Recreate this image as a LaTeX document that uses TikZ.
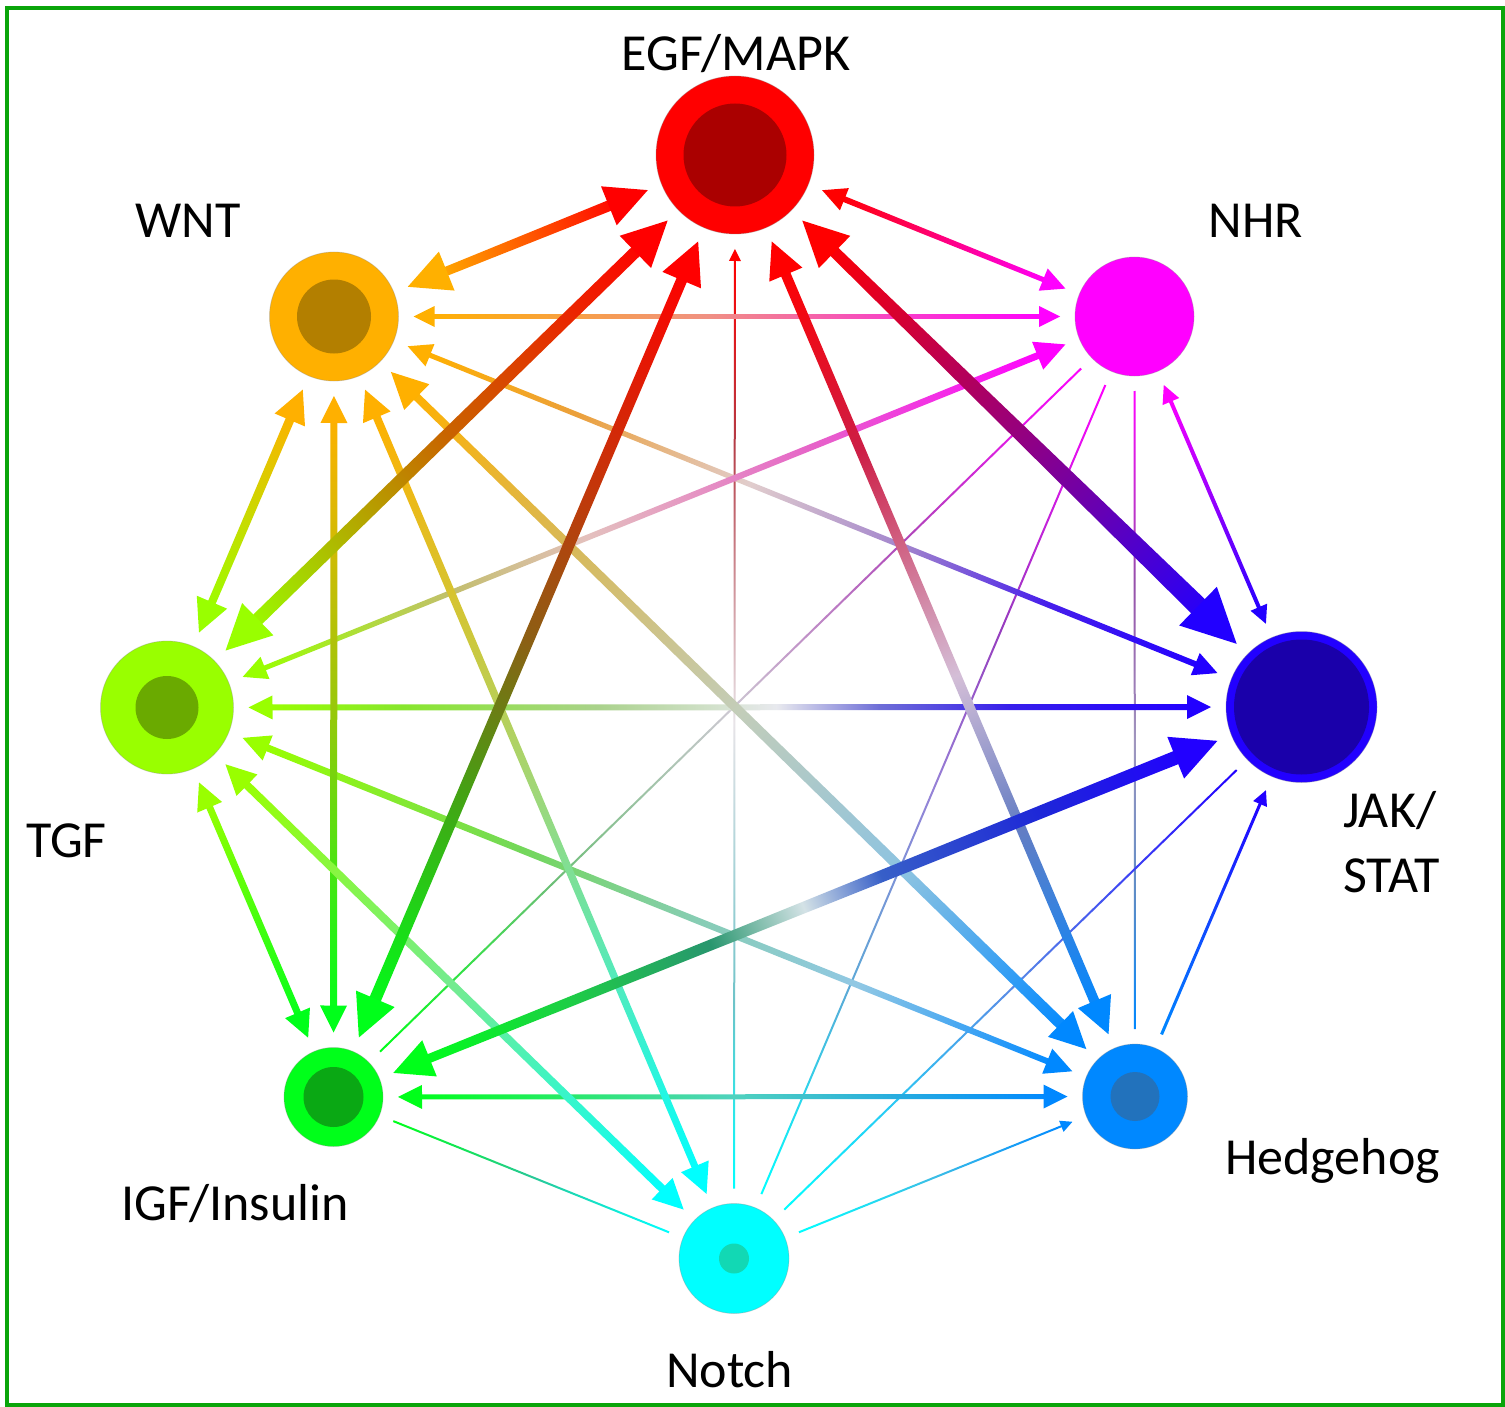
\documentclass[tikz,border=0pt]{standalone}
\usepackage{fontspec}
\setmainfont{Carlito}
\usetikzlibrary{calc}
% node colours
\definecolor{cE}{RGB}{255,0,0}
\definecolor{cEi}{RGB}{170,0,0}
\definecolor{cN}{RGB}{255,0,255}
\definecolor{cJ}{RGB}{34,0,255}
\definecolor{cJi}{RGB}{26,0,170}
\definecolor{cH}{RGB}{0,136,255}
\definecolor{cHi}{RGB}{34,114,188}
\definecolor{cNo}{RGB}{0,255,255}
\definecolor{cNoi}{RGB}{18,216,180}
\definecolor{cI}{RGB}{0,255,26}
\definecolor{cIi}{RGB}{10,168,20}
\definecolor{cT}{RGB}{153,255,0}
\definecolor{cTi}{RGB}{106,170,0}
\definecolor{cW}{RGB}{255,176,0}
\definecolor{cWi}{RGB}{179,127,0}
\definecolor{frame}{RGB}{10,165,10}
% intermediate edge colours
\definecolor{mEJ}{RGB}{150,0,125}
\definecolor{mET}{RGB}{200,100,0}
\definecolor{mEIa}{RGB}{195,55,10}
\definecolor{mEIb}{RGB}{140,95,20}
\definecolor{mEIc}{RGB}{70,160,20}
\definecolor{mEHa}{RGB}{205,30,70}
\definecolor{mEHb}{RGB}{212,190,215}
\definecolor{mEHc}{RGB}{100,125,195}
\definecolor{mENoa}{RGB}{180,60,70}
\definecolor{mENob}{RGB}{232,228,232}
\definecolor{mENoc}{RGB}{110,195,200}
\definecolor{mWN}{RGB}{240,145,130}
\definecolor{mWJa}{RGB}{235,160,60}
\definecolor{mWJb}{RGB}{225,205,205}
\definecolor{mWJc}{RGB}{160,130,205}
\definecolor{mWJd}{RGB}{70,30,235}
\definecolor{mWHa}{RGB}{215,185,90}
\definecolor{mWHb}{RGB}{195,205,185}
\definecolor{mWHc}{RGB}{140,195,225}
\definecolor{mWI}{RGB}{150,200,10}
\definecolor{mWNoa}{RGB}{205,200,60}
\definecolor{mWNob}{RGB}{160,215,120}
\definecolor{mWNoc}{RGB}{80,235,190}
\definecolor{mNTa}{RGB}{230,100,200}
\definecolor{mNTb}{RGB}{228,192,190}
\definecolor{mNTc}{RGB}{195,190,110}
\definecolor{mNIa}{RGB}{175,70,185}
\definecolor{mNIb}{RGB}{205,200,210}
\definecolor{mNIc}{RGB}{110,190,120}
\definecolor{mNNoa}{RGB}{150,60,190}
\definecolor{mNNob}{RGB}{150,130,215}
\definecolor{mNNoc}{RGB}{90,170,215}
\definecolor{mNHa}{RGB}{150,80,170}
\definecolor{mNHb}{RGB}{160,150,190}
\definecolor{mNHc}{RGB}{90,140,200}
\definecolor{mTJa}{RGB}{135,230,45}
\definecolor{mTJb}{RGB}{170,210,140}
\definecolor{mTJc}{RGB}{232,233,238}
\definecolor{mTJd}{RGB}{110,110,215}
\definecolor{mTJe}{RGB}{55,30,235}
\definecolor{mTHa}{RGB}{115,215,90}
\definecolor{mTHb}{RGB}{135,205,180}
\definecolor{mTHc}{RGB}{145,200,228}
\definecolor{mTNo}{RGB}{115,235,145}
\definecolor{mIJa}{RGB}{30,205,70}
\definecolor{mIJb}{RGB}{40,150,110}
\definecolor{mIJc}{RGB}{212,226,230}
\definecolor{mIJd}{RGB}{55,95,200}
\definecolor{mIJe}{RGB}{30,40,215}
\definecolor{mIH}{RGB}{80,210,190}
\definecolor{mINo}{RGB}{40,200,150}
\definecolor{mJNo}{RGB}{90,140,230}
\definecolor{mHNo}{RGB}{60,190,230}

\makeatletter
% \edge{from}{to}{width at from}{width at to}{head at from (0 = none)}{head at to}{t/colour stops}
\newcommand\edge[7]{%
  \path (#1) -- (#2) coordinate[pos=0] (es) coordinate[pos=1] (et);
  \pgfmathanglebetweenpoints{\pgfpointanchor{es}{center}}{\pgfpointanchor{et}{center}}%
  \let\eang\pgfmathresult
  \pgfpointdiff{\pgfpointanchor{es}{center}}{\pgfpointanchor{et}{center}}%
  \edef\ex{\the\pgf@x}\edef\ey{\the\pgf@y}%
  \pgfmathveclen{\ex}{\ey}\let\elen\pgfmathresult
  \pgfmathsetmacro\hlA{(#5>0)*(6+3*#5)}%
  \pgfmathsetmacro\hhA{3+1.5*#5}%
  \pgfmathsetmacro\hlB{(#6>0)*(6+3*#6)}%
  \pgfmathsetmacro\hhB{3+1.5*#6}%
  \pgfmathsetmacro\xs{0.6*\hlA}%
  \pgfmathsetmacro\xe{\elen-0.6*\hlB}%
  \pgfmathsetmacro\xb{\elen-\hlB}%
  \pgfmathsetmacro\hwa{#3/2}%
  \pgfmathsetmacro\hwb{#4/2}%
  \xdef\shspec{color(0bp)=(c#1); color(25bp)=(c#1);}%
  \foreach \ep/\ec in {#7}{%
    \pgfmathsetmacro\pp{25+50*\ep}%
    \xdef\shspec{\shspec color(\pp bp)=(\ec);}}%
  \xdef\shspec{\shspec color(75bp)=(c#2); color(100bp)=(c#2)}%
  \edef\tmp{\noexpand\pgfdeclarehorizontalshading{sh#1#2}{100bp}{\shspec}}\tmp
  \begin{scope}[transform canvas={shift={(es)},rotate=\eang}]
    \shade[shading=sh#1#2] (\xs pt,-\hwa pt) -- (\xe pt,-\hwb pt)
       -- (\xe pt,\hwb pt) -- (\xs pt,\hwa pt) -- cycle;
    \ifdim #5pt>0pt
      \fill[c#1] (0pt,0pt) -- (\hlA pt,\hhA pt) -- (\hlA pt,-\hhA pt) -- cycle;
    \fi
    \ifdim #6pt>0pt
      \fill[c#2] (\elen pt,0pt) -- (\xb pt,\hhB pt) -- (\xb pt,-\hhB pt) -- cycle;
    \fi
  \end{scope}
}
\makeatother

\begin{document}
\begin{tikzpicture}[x=1pt,y=-1pt,
  pw/.style={circle, inner sep=0pt, outer sep=15pt, minimum size=#1,
             draw=black!45, draw opacity=0.35, line width=0.8pt},
  lbl/.style={font=\fontsize{52}{62}\selectfont, inner sep=0pt, text=black}]
\useasboundingbox (0,0) rectangle (1505,1407);
\fill[white] (0,0) rectangle (1505,1407);
\draw[frame, line width=4pt] (7,8) rectangle (1502.5,1405);

% pathway nodes
\node[pw=158pt, fill=cE]  (E)  at (735,155) {};
\node[pw=119pt, fill=cN]  (N)  at (1134.5,316.5) {};
\node[pw=151pt, fill=cJ]  (J)  at (1301.5,707) {};
\node[pw=105pt, fill=cH]  (H)  at (1135,1096.5) {};
\node[pw=110pt, fill=cNo] (No) at (734,1258.5) {};
\node[pw=99pt,  fill=cI]  (I)  at (333.5,1097) {};
\node[pw=133pt, fill=cT]  (T)  at (167,707.5) {};
\node[pw=129pt, fill=cW]  (W)  at (334,316.5) {};
\fill[cEi]  (E.center)  circle[radius=51.5pt];
\fill[cJi]  (J.center)  circle[radius=67.5pt];
\fill[cHi]  (H.center)  circle[radius=24.5pt];
\fill[cNoi] (No.center) circle[radius=15pt];
\fill[cIi]  (I.center)  circle[radius=30pt];
\fill[cTi]  (T.center)  circle[radius=31.5pt];
\fill[cWi]  (W.center)  circle[radius=37pt];

% connectors
\edge{N}{I}{2}{2}{0}{0}{0.25/mNIa,0.5/mNIb,0.75/mNIc}
\edge{N}{No}{2}{2}{0}{0}{0.3/mNNoa,0.5/mNNob,0.75/mNNoc}
\edge{N}{H}{2}{2}{0}{0}{0.3/mNHa,0.55/mNHb,0.8/mNHc}
\edge{I}{No}{2}{2}{0}{0}{0.5/mINo}
\edge{J}{No}{2}{2}{0}{0}{0.5/mJNo}
\edge{H}{No}{2}{2}{2}{0}{0.5/mHNo}
\edge{E}{No}{2}{2}{2}{0}{0.2/mENoa,0.5/mENob,0.8/mENoc}
\edge{J}{H}{3}{3}{3}{0}{0.5/cJ!50!cH}
\edge{W}{N}{4}{4}{5}{5}{0.45/mWN}
\edge{N}{J}{4}{4}{4}{4}{0.5/cN!50!cJ}
\edge{W}{J}{5}{6}{6}{6}{0.2/mWJa,0.42/mWJb,0.62/mWJc,0.8/mWJd}
\edge{T}{J}{6}{6}{6}{6}{0.15/mTJa,0.36/mTJb,0.55/mTJc,0.66/mTJd,0.8/mTJe}
\edge{I}{H}{5}{5}{6}{6}{0.5/mIH}
\edge{E}{N}{6}{5}{6}{6}{0.5/cE!50!cN}
\edge{N}{T}{7}{5}{8}{6}{0.3/mNTa,0.58/mNTb,0.75/mNTc}
\edge{T}{H}{7}{6}{7}{7}{0.33/mTHa,0.55/mTHb,0.75/mTHc}
\edge{T}{I}{7}{7}{7}{7}{0.5/cT!50!cI}
\edge{W}{I}{7}{7}{7}{7}{0.5/mWI}
\edge{W}{No}{8}{7}{8}{8}{0.3/mWNoa,0.5/mWNob,0.75/mWNoc}
\edge{T}{No}{8}{8}{8}{8}{0.5/mTNo}
\edge{W}{T}{9}{8}{9}{9}{0.5/cW!50!cT}
\edge{W}{H}{8}{11}{10}{10}{0.25/mWHa,0.5/mWHb,0.75/mWHc}
\edge{E}{H}{10}{10}{10}{10}{0.25/mEHa,0.55/mEHb,0.75/mEHc}
\edge{I}{J}{9}{14}{11}{13}{0.2/mIJa,0.38/mIJb,0.5/mIJc,0.6/mIJd,0.8/mIJe}
\edge{E}{W}{11}{9}{12}{12}{0.5/cE!50!cW}
\edge{E}{I}{11}{12}{12}{12}{0.3/mEIa,0.5/mEIb,0.7/mEIc}
\edge{E}{T}{12}{13}{13}{13}{0.5/mET}
\edge{E}{J}{11}{20}{13}{16}{0.5/mEJ}

% labels
\node[lbl, anchor=base]      (lE)  at (736,71)    {EGF/MAPK};
\node[lbl, anchor=base]      (lN)  at (1256,238)  {NHR};
\node[lbl, anchor=base west] (lW)  at (135,237)   {WNT};
\node[lbl, anchor=base west] (lT)  at (26,857)    {TGF};
\node[lbl, anchor=base west] (lJ1) at (1343,827)  {JAK/};
\node[lbl, anchor=base west] (lJ2) at (1343,892)  {STAT};
\node[lbl, anchor=base west] (lH)  at (1225,1174) {Hedgehog};
\node[lbl, anchor=base west] (lI)  at (121,1220)  {IGF/Insulin};
\node[lbl, anchor=base west] (lNo) at (666,1387)  {Notch};
\end{tikzpicture}
\end{document}
